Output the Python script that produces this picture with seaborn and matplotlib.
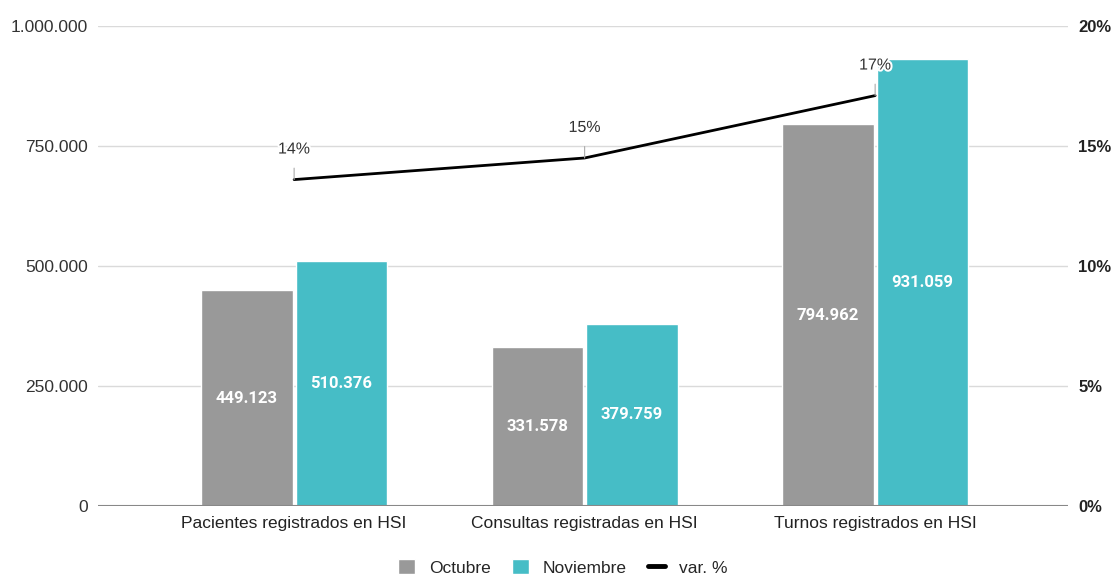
import numpy as np
import pandas as pd
import matplotlib.pyplot as plt
import matplotlib.patheffects as pe
from matplotlib.lines import Line2D
from matplotlib.patches import Patch
import seaborn as sns

categories = ["Pacientes registrados en HSI", "Consultas registradas en HSI", "Turnos registrados en HSI"]
octubre = [449123, 331578, 794962]
noviembre = [510376, 379759, 931059]
var_pct = [13.6, 14.5, 17.1]
var_labels = ["14%", "15%", "17%"]
months = ["Octubre", "Noviembre"]
colors = {"Octubre": "#999999", "Noviembre": "#46BDC6"}


def fmt_miles(v):
    return f"{int(round(v)):,}".replace(",", ".")


df = pd.DataFrame({
    "categoria": categories * 2,
    "mes": np.repeat(months, len(categories)),
    "valor": octubre + noviembre,
})

sns.set_theme(style="white")
plt.rcParams["font.family"] = ["Liberation Sans", "DejaVu Sans"]

fig = plt.figure(figsize=(11.14, 5.74), dpi=100)
ax = fig.add_axes([0.088, 0.1185, 0.871, 0.8362])

sns.barplot(data=df, x="categoria", y="valor", hue="mes", palette=colors,
            width=0.65, gap=0.03, ax=ax, legend=False, saturation=1)

# value labels centred inside the bars
for cont in ax.containers:
    labels = [fmt_miles(b.get_height()) for b in cont]
    ax.bar_label(cont, labels=labels, label_type="center", color="white",
                 fontsize=12, fontweight="bold", family=["Roboto", "DejaVu Sans"])

ax.set_ylim(0, 1_000_000)
ax.set_yticks([0, 250000, 500000, 750000, 1000000])
ax.set_yticklabels([fmt_miles(t) for t in ax.get_yticks()], color="#333333", fontsize=12.5)
ax.set_xlim(-0.675, 2.665)
ax.set_xlabel("")
ax.set_ylabel("")
ax.tick_params(axis="x", labelsize=12.5, labelcolor="#222222", length=0, pad=7)
ax.tick_params(axis="y", length=0, pad=7)
ax.grid(axis="y", color="#dadada", linewidth=1)
ax.set_axisbelow(True)
for s in ax.spines.values():
    s.set_visible(False)
ax.axhline(0, color="#888888", linewidth=1.5, zorder=3)

# line on secondary axis
ax2 = ax.twinx()
sns.lineplot(x=[0, 1, 2], y=var_pct, ax=ax2, color="black", linewidth=2)
ax2.set_ylim(0, 20)
ax2.set_yticks([0, 5, 10, 15, 20])
ax2.set_yticklabels([f"{int(t)}%" for t in ax2.get_yticks()], fontsize=12,
                    fontweight="bold", color="#222222")
ax2.tick_params(axis="y", length=0, pad=7)
ax2.set_ylabel("")
for s in ax2.spines.values():
    s.set_visible(False)

for i, (v, lab) in enumerate(zip(var_pct, var_labels)):
    ax2.annotate(lab, xy=(i, v), xytext=(0, 22), textcoords="offset points",
                 ha="center", va="center", fontsize=11.5, color="#333333",
                 path_effects=[pe.withStroke(linewidth=3, foreground="white")],
                 arrowprops=dict(arrowstyle="-", color="#aaaaaa", lw=0.8,
                                 shrinkA=6, shrinkB=0))

handles = [Patch(facecolor=colors["Octubre"], label="Octubre"),
           Patch(facecolor=colors["Noviembre"], label="Noviembre"),
           Line2D([0], [0], color="black", linewidth=3.5, label="var. %")]
fig.legend(handles=handles, loc="lower center", bbox_to_anchor=(0.505, -0.03),
           ncol=3, frameon=False, fontsize=12.5, handlelength=1.0, handleheight=1.0,
           columnspacing=1.2, handletextpad=0.8)

fig.savefig("out.png", dpi=100)
